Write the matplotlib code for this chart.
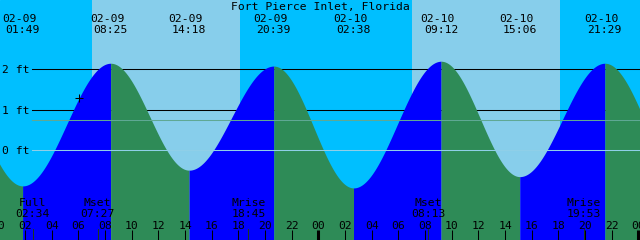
import numpy as np
import matplotlib
matplotlib.use("Agg")
import matplotlib.pyplot as plt
import matplotlib.transforms as mtransforms

# --- data ---
STATION = "Fort Pierce Inlet, Florida"
tide_dates = ["02-09", "02-09", "02-09", "02-09", "02-10", "02-10", "02-10", "02-10"]
tide_clock = ["01:49", "08:25", "14:18", "20:39", "02:38", "09:12", "15:06", "21:29"]
tide_day = [0, 0, 0, 0, 1, 1, 1, 1]
tide_feet = [-0.89, 2.15, -0.50, 2.08, -0.94, 2.20, -0.66, 2.15]

# high/low just outside the window (estimated from where the curve leaves the edges)
edge_hours = [-4.3, 51.8]
edge_feet = [2.05, -0.95]

moon_names = ["Full", "Mset", "Mrise", "Mset", "Mrise"]
moon_clock = ["02:34", "07:27", "18:45", "08:13", "19:53"]
moon_day = [0, 0, 0, 1, 1]

sunrise_hours = [7.02, 31.02]
sunset_hours = [18.12, 42.12]

now_hour = 6.07
msl_feet = 0.74
grid_feet = [1, 2]
label_feet = [2, 1, 0]
hour_ticks = list(range(0, 49, 2))

# --- look ---
NIGHT = "#00BFFF"
DAY = "#87CEEB"
RISE = "#0000FF"
FALL = "#2E8B57"
FONT = "DejaVu Sans Mono"
FS = 8.2

T0, T1 = 0.12, 48.12
W, H = 640, 240
PX_FT = 40.35
Y0 = 150  # pixel row of 0 ft


def to_hours(clock, day):
    h, m = clock.split(":")
    return day * 24 + int(h) + int(m) / 60.0


def yfrac(py):
    return 1 - py / H


tide_hours = [to_hours(c, d) for c, d in zip(tide_clock, tide_day)]
moon_hours = [to_hours(c, d) for c, d in zip(moon_clock, moon_day)]

ext_t = [edge_hours[0]] + tide_hours + [edge_hours[1]]
ext_h = [edge_feet[0]] + tide_feet + [edge_feet[1]]

fig = plt.figure(figsize=(W / 100, H / 100), dpi=100)
ax = fig.add_axes([0, 0, 1, 1])
ax.set_xlim(T0, T1)
ybot = -(H - Y0) / PX_FT
ax.set_ylim(ybot, Y0 / PX_FT)
ax.axis("off")
ax.add_patch(plt.Rectangle((0, 0), 1, 1, transform=ax.transAxes, color=NIGHT, zorder=0))
for a, b in zip(sunrise_hours, sunset_hours):
    ax.axvspan(a, b, color=DAY, lw=0, zorder=0.5)

# grid lines sit behind the water
for f in grid_feet:
    ax.axhline(f, xmin=32 / W, color="black", lw=0.75, zorder=1)

# tide curve: cosine between highs and lows, blue when rising, green when falling
curve_t, curve_h = [], []
for i in range(len(ext_t) - 1):
    ta, tb = ext_t[i], ext_t[i + 1]
    ha, hb = ext_h[i], ext_h[i + 1]
    tt = np.linspace(ta, tb, 300)
    hh = hb + (ha - hb) * (1 + np.cos(np.pi * (tt - ta) / (tb - ta))) / 2
    col = RISE if hb > ha else FALL
    ax.fill_between(tt, hh, ybot, color=col, lw=0, antialiased=False, zorder=2)
    curve_t.append(tt)
    curve_h.append(hh)
curve_t = np.concatenate(curve_t)
curve_h = np.concatenate(curve_h)

ax.axhline(msl_feet, xmin=32 / W, color="#5FA894", lw=0.75, zorder=3)
ax.axhline(0, xmin=32 / W, color="#8FCFE8", lw=0.75, zorder=3)

ax.plot([now_hour], [np.interp(now_hour, curve_t, curve_h)], marker="+",
        color="black", ms=6, mew=0.75, zorder=4)

bx = mtransforms.blended_transform_factory(ax.transData, ax.transAxes)
by = mtransforms.blended_transform_factory(ax.transAxes, ax.transData)

ax.text(0.5, yfrac(10), STATION, transform=ax.transAxes, ha="center",
        va="baseline", family=FONT, fontsize=FS, zorder=5)

for t, d, c in zip(tide_hours, tide_dates, tide_clock):
    ax.annotate(d, xy=(t, yfrac(21.7)), xycoords=bx, xytext=(-2.5, 0),
                textcoords="offset points", ha="center", va="baseline",
                family=FONT, fontsize=FS, zorder=5)
    ax.text(t, yfrac(33.3), c, transform=bx, ha="center", va="baseline",
            family=FONT, fontsize=FS, zorder=5)

for f in label_feet:
    ax.annotate(f"{f} ft", xy=(2 / W, f), xycoords=by, xytext=(0, -3),
                textcoords="offset points", ha="left", va="baseline",
                family=FONT, fontsize=FS, zorder=5)

for t, n, c in zip(moon_hours, moon_names, moon_clock):
    ax.text(t, yfrac(206), n, transform=bx, ha="center", va="baseline",
            family=FONT, fontsize=FS, zorder=5)
    ax.text(t, yfrac(217.3), c, transform=bx, ha="center", va="baseline",
            family=FONT, fontsize=FS, zorder=5)
    ax.plot([t, t], [0, yfrac(229)], transform=bx, color="#1E3A1E", lw=0.75, zorder=5)

for h in hour_ticks:
    ax.text(h, yfrac(229.3), f"{h % 24:02d}", transform=bx, ha="center",
            va="baseline", family=FONT, fontsize=FS, zorder=5)
    lw = 2.2 if h % 24 == 0 else 0.75
    ax.plot([h, h], [0, yfrac(230)], transform=bx, color="black", lw=lw,
            solid_capstyle="butt", zorder=5)

fig.savefig("out.png", dpi=100)
